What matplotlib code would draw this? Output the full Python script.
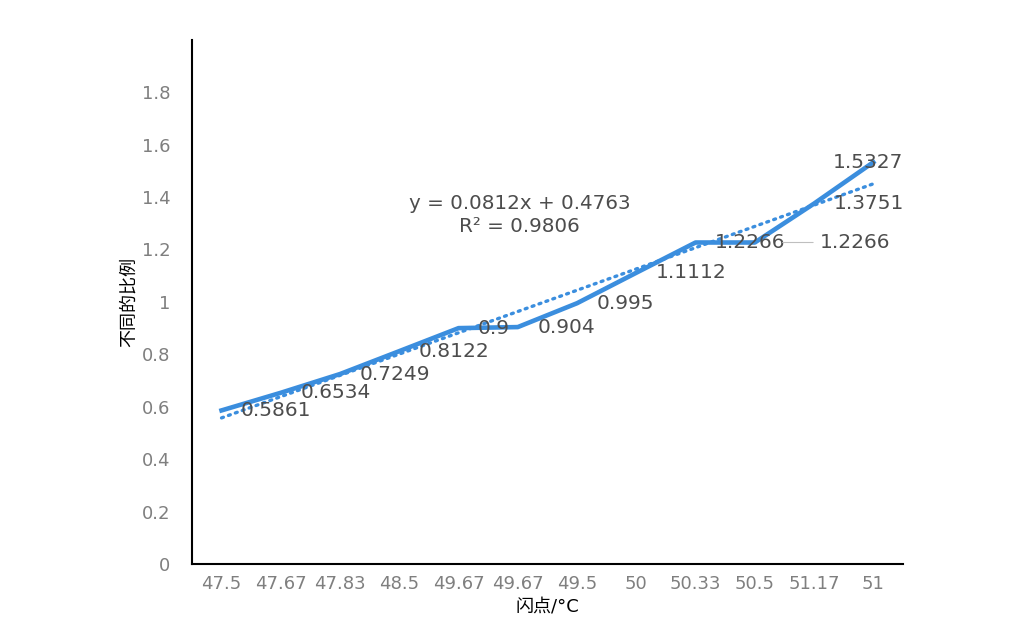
import matplotlib
matplotlib.use("Agg")
import matplotlib.pyplot as plt
import numpy as np

plt.rcParams['font.family'] = ['Noto Sans CJK SC', 'DejaVu Sans']

# categorias do eixo x (temperatura de fulgor) e razao
categorias = ["47.5", "47.67", "47.83", "48.5", "49.67", "49.67",
              "49.5", "50", "50.33", "50.5", "51.17", "51"]
valores = [0.5861, 0.6534, 0.7249, 0.8122, 0.9, 0.904,
           0.995, 1.1112, 1.2266, 1.2266, 1.3751, 1.5327]
yticks = [0, 0.2, 0.4, 0.6, 0.8, 1.0, 1.2, 1.4, 1.6, 1.8]
ytick_labels = ["0", "0.2", "0.4", "0.6", "0.8", "1", "1.2", "1.4", "1.6", "1.8"]
eq_texto = "y = 0.0812x + 0.4763\nR² = 0.9806"

azul = '#3b8ede'
cinza = '#4d4d4d'

fig = plt.figure(figsize=(10.1, 6.41), dpi=100)
ax = fig.add_axes([0.190, 0.120, 0.704, 0.818])

x = np.arange(len(categorias))
ax.plot(x, valores, color=azul, lw=3.3, solid_joinstyle='round', zorder=3)

# linha de tendencia linear (x = 1..n como no excel)
coef = np.polyfit(x + 1, valores, 1)
ax.plot(x, np.polyval(coef, x + 1), color=azul, lw=2.4, ls=(0, (0.6, 1.6)),
        dash_capstyle='round', zorder=2)

# rotulos dos pontos
fs_rot = 14.5
for i, v in enumerate(valores):
    if i == len(valores) - 1:
        ax.annotate(str(v), (x[i], v), xytext=(-4, 0), textcoords='offset points',
                    ha='center', va='center', fontsize=fs_rot, color=cinza,
                    family='DejaVu Sans', zorder=4)
    elif i == 9:
        ax.annotate(str(v), (x[i], v), xytext=(47, 0), textcoords='offset points',
                    ha='left', va='center', fontsize=fs_rot, color=cinza,
                    family='DejaVu Sans', zorder=4,
                    arrowprops=dict(arrowstyle='-', color='#bfbfbf', lw=0.8,
                                    shrinkA=3, shrinkB=20))
    else:
        ax.annotate(str(v), (x[i], v), xytext=(14, 0), textcoords='offset points',
                    ha='left', va='center', fontsize=fs_rot, color=cinza,
                    family='DejaVu Sans', zorder=4)

ax.text(0.461, 0.666, eq_texto, transform=ax.transAxes, ha='center', va='center',
        fontsize=14.3, color=cinza, family='DejaVu Sans', linespacing=1.25)

ax.set_xlim(-0.5, len(categorias) - 0.5)
ax.set_ylim(0, 2.0)
ax.set_xticks(x)
ax.set_xticklabels(categorias, family='DejaVu Sans')
ax.set_yticks(yticks)
ax.set_yticklabels(ytick_labels, family='DejaVu Sans')
ax.tick_params(axis='both', length=0, labelsize=13, colors='#7f7f7f')
ax.tick_params(axis='y', pad=15.5)
ax.tick_params(axis='x', pad=8)

for s in ['top', 'right']:
    ax.spines[s].set_visible(False)
for s in ['left', 'bottom']:
    ax.spines[s].set_color('black')
    ax.spines[s].set_linewidth(1.5)

ax.set_xlabel("闪点/°C", fontsize=13, color='black', labelpad=3,
              family=['DejaVu Sans', 'Noto Sans CJK SC'])
ax.set_ylabel("不同的比例", fontsize=13, color='black', labelpad=3)

fig.savefig("out.png", dpi=100)
